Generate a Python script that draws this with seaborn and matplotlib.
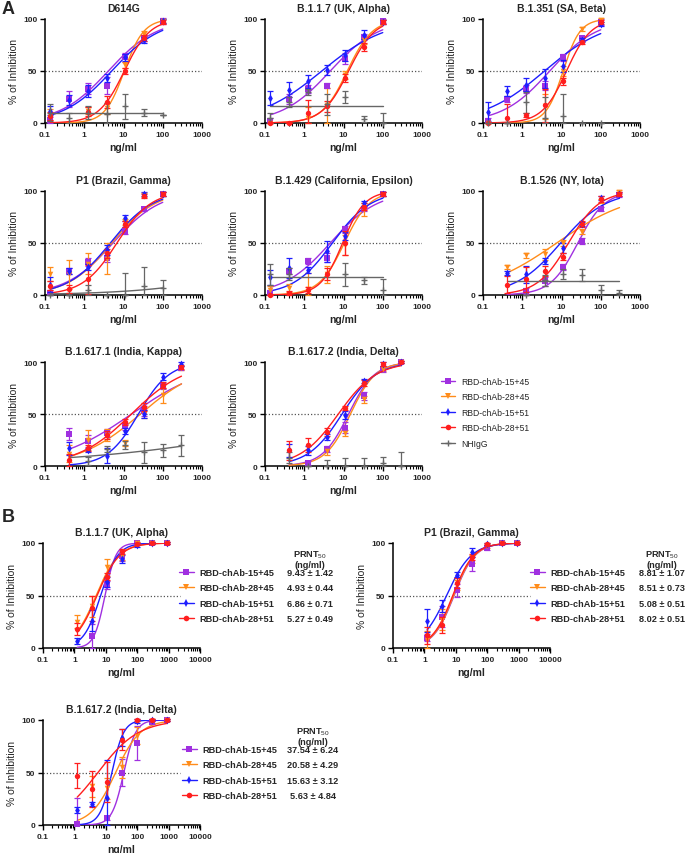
import numpy as np
import pandas as pd
import matplotlib
matplotlib.use("Agg")
import matplotlib.pyplot as plt
import seaborn as sns
from matplotlib.lines import Line2D
from matplotlib.ticker import FixedLocator, LogLocator, NullFormatter

sns.set_style("ticks")
plt.rcParams['font.family'] = ['Liberation Sans', 'DejaVu Sans']
plt.rcParams['mathtext.fontset'] = 'custom'
plt.rcParams['mathtext.rm'] = 'Liberation Sans'
plt.rcParams['mathtext.bf'] = 'Liberation Sans:bold'

nan = np.nan

# ---------------- data ----------------
SERIES = ["RBD-chAb-15+45", "RBD-chAb-28+45", "RBD-chAb-15+51", "RBD-chAb-28+51", "NHIgG"]
COLORS = ["#A030E0", "#FF8C1A", "#1E1EFF", "#FF1E1E", "#666666"]
MARKERS = ["s", "v", "d", "o", "+"]

X_A1 = [0.137, 0.41, 1.23, 3.7, 11.1, 33.3, 100]
X_A2 = [0.41, 1.23, 3.7, 11.1, 33.3, 100, 300]
X_B = [1.23, 3.7, 11.1, 33.3, 100, 300, 900]

# fit parameters: (bottom, top, IC50, hill)
D614G_Y = [[3, 23, 33, 36, 63, 82, 98], [8, nan, 12, 14, 56, 86, 98],
           [12, 22, 31, 43, 63, 80, 98], [7, nan, 11, 20, 50, 82, 97],
           [10, 5, 10, 9, 16, 10, 8]]
D614G_ERR = [[3, 8, 5, 8, 4, 3, 3], [5, 0, 3, 5, 3, 2, 2], [4, 5, 6, 4, 3, 3, 2],
             [4, 0, 4, 6, 3, 3, 2], [8, 5, 6, 10, 12, 3, 0]]
D614G_FIT = [(0, 100, 4.1, 0.7), (0, 100, 10.5, 1.75), (0, 100, 5.0, 0.7),
             (0, 100, 10.5, 1.33), (10, 10, 1, 1)]

ALPHA_Y = [[2, 23, 33, 36, 62, 83, 98], [0, nan, 5, 17, 46, 80, 97],
           [24, 32, 40, 51, 65, 85, 97], [0, 0, 10, 16, 43, 73, 97],
           [5, 20, 30, 18, 25, 4, 0]]
ALPHA_ERR = [[3, 5, 4, 2, 5, 3, 2], [0, 0, 10, 17, 4, 4, 2], [7, 7, 6, 5, 5, 4, 2],
             [0, 0, 12, 5, 4, 4, 2], [5, 5, 3, 10, 6, 3, 10]]
ALPHA_FIT = [(0, 100, 4.6, 0.7), (0, 100, 12.5, 1.35), (0, 100, 2.8, 0.53),
             (0, 100, 13.5, 1.3), (16, 16, 1, 1)]

BETA_Y = [[2, 23, 33, 36, 63, 82, 97], [0, nan, nan, 16, 50, 90, 99],
          [11, 31, 37, 43, 55, 80, 95], [0, 5, 8, 17, 40, 78, 97],
          [0, 0, 20, 5, 7, 0, 0]]
BETA_ERR = [[3, 3, 4, 4, 3, 2, 3], [0, 0, 0, 12, 5, 2, 2], [9, 5, 6, 9, 6, 2, 2],
            [0, 13, 2, 16, 3, 2, 2], [0, 0, 10, 20, 21, 0, 0]]
BETA_FIT = [(0, 100, 5.0, 0.72), (0, 100, 11, 2.0), (0, 100, 3.7, 0.55),
            (0, 100, 13.4, 1.4), (0, 0, 1, 1)]

GAMMA_Y = [[2, 23, 32, 36, 62, 83, 97], [20, 20, 30, 35, 70, 96, 97],
           [10, 23, 27, 43, 74, 97, 97], [9, 6, 15, 40, 68, 95, 97],
           [0, 0, 5, 0, 0, 9, 7]]
GAMMA_ERR = [[3, 3, 4, 4, 3, 2, 2], [7, 14, 10, 15, 3, 2, 2], [7, 3, 3, 5, 3, 2, 2],
             [4, 4, 14, 4, 3, 2, 2], [0, 0, 5, 0, 21, 18, 7]]
GAMMA_FIT = [(0, 100, 5.4, 0.72), (0, 100, 5.0, 0.78), (0, 100, 4.6, 0.8),
             (0, 100, 6.8, 1.0), (0, 100, 6e5, 0.3)]

EPSILON_Y = [[2, 23, 33, 36, 63, 83, 97], [5, 7, 6, 20, 48, 82, 97],
             [17, 26, 24, 42, 57, 88, 97], [0, 2, 5, 20, 50, 85, 97],
             [20, 20, nan, nan, 20, 14, 5]]
EPSILON_ERR = [[3, 3, 3, 4, 3, 2, 2], [4, 4, 15, 8, 10, 6, 2], [7, 10, 3, 10, 4, 2, 2],
               [0, 2, 3, 6, 12, 3, 2], [10, 6, 0, 0, 11, 3, 10]]
EPSILON_FIT = [(0, 100, 4.6, 0.72), (0, 100, 10.5, 1.35), (0, 100, 5.2, 0.88),
               (0, 100, 9.5, 1.55), (17, 17, 1, 1)]

IOTA_Y = [[nan, 4, 13, 27, 52, 83, 96], [27, 38, 39, 50, 61, 90, 99],
          [21, 20, 33, 45, 68, 93, 97], [10, 15, 23, 37, 68, 92, 97],
          [nan, 0, 14, 20, 19, 5, 2]]
IOTA_ERR = [[0, 3, 4, 3, 3, 2, 2], [2, 2, 5, 3, 2, 2, 2], [2, 8, 3, 5, 2, 2, 2],
            [8, 12, 5, 3, 3, 3, 2], [0, 0, 5, 5, 6, 5, 3]]
IOTA_FIT = [(0, 100, 26, 1.25), (0, 100, 7.5, 0.45), (0, 100, 9.5, 0.75),
            (0, 100, 15, 1.1), (13, 13, 1, 1)]

KAPPA_Y = [[31, 24, 32, 38, 53, 77, 94], [12, 25, 30, 22, 50, 68, 94],
           [17, 15, 10, 34, 50, 86, 98], [6, 17, 30, 42, 57, 78, 95],
           [nan, 5, 16, 20, 13, 15, 20]]
KAPPA_ERR = [[6, 6, 4, 3, 5, 3, 2], [8, 10, 6, 3, 4, 7, 2], [6, 2, 7, 3, 4, 3, 2],
             [6, 3, 4, 3, 4, 3, 2], [0, 4, 3, 4, 10, 6, 10]]
KAPPA_FIT = [(0, 100, 16, 0.45), (0, 100, 27, 0.55), (0, 100, 24, 1.1),
             (0, 100, 16, 0.63), (0, 100, 4.7e6, 0.15)]

DELTA_Y = [[nan, 3, 16, 37, 67, 93, 100], [nan, nan, 14, 32, 64, 93, 100],
           [15, 15, 28, 49, 82, 98, 100], [15, 20, 33, 56, 80, 98, 100],
           [8, 0, 0, 0, 0, 3, 0]]
DELTA_ERR = [[0, 2, 3, 5, 4, 3, 1], [0, 0, 3, 3, 3, 2, 1], [6, 4, 3, 4, 2, 2, 1],
             [9, 7, 4, 2, 3, 2, 1], [5, 0, 6, 8, 8, 6, 13]]
DELTA_FIT = [(0, 100, 13.5, 1.3), (0, 100, 15, 1.35), (0, 100, 9.2, 1.0),
             (0, 100, 7.4, 0.9), None]

# Panel B
B_ALPHA_Y = [[nan, 11, 60, 88, 100, 100, 100], [25, 40, 77, 88, 100, 100, 100],
             [7, 26, 63, 85, 98, 100, 100], [18, 38, 68, 92, 99, 100, 100]]
B_ALPHA_ERR = [[0, 12, 4, 5, 1, 1, 1], [6, 10, 8, 4, 1, 1, 1],
               [3, 10, 5, 4, 2, 1, 1], [6, 12, 3, 2, 1, 1, 1]]
B_ALPHA_FIT = [(0, 100, 9.43, 2.5), (0, 100, 4.93, 1.2), (0, 100, 6.86, 1.6), (0, 100, 5.27, 1.2)]
B_ALPHA_PRNT = ["9.43 \u00b1 1.42", "4.93 \u00b1 0.44", "6.86 \u00b1 0.71", "5.27 \u00b1 0.49"]

B_GAMMA_Y = [[10, 30, 55, 80, 95, 100, 100], [8, 27, 60, 85, 97, 100, 100],
             [26, 40, 70, 91, 99, 100, 100], [12, 22, 62, 87, 99, 100, 100]]
B_GAMMA_ERR = [[3, 10, 6, 7, 2, 1, 1], [8, 10, 5, 4, 2, 1, 1],
               [11, 6, 2, 4, 1, 1, 1], [8, 8, 5, 3, 1, 1, 1]]
B_GAMMA_FIT = [(0, 100, 8.81, 1.3), (0, 100, 8.51, 1.3), (0, 100, 5.08, 1.1), (0, 100, 8.02, 1.3)]
B_GAMMA_PRNT = ["8.81 \u00b1 1.07", "8.51 \u00b1 0.73", "5.08 \u00b1 0.51", "8.02 \u00b1 0.51"]

B_DELTA_Y = [[1, nan, 7, 50, 78, 98, 100], [nan, 37, 35, 55, 85, 99, 100],
             [14, 20, 26, 83, 99, 100, 100], [47, 34, 41, 81, 100, 100, 100]]
B_DELTA_ERR = [[25, 0, 2, 13, 16, 2, 1], [0, 10, 10, 10, 8, 2, 1],
               [3, 2, 36, 8, 2, 1, 1], [12, 17, 19, 10, 1, 1, 1]]
B_DELTA_FIT = [(0, 100, 37.54, 2.3), (0, 100, 20.58, 1.1), (0, 100, 15.63, 2.3), (0, 100, 5.63, 0.67)]
B_DELTA_PRNT = ["37.54 \u00b1 6.24", "20.58 \u00b1 4.29", "15.63 \u00b1 3.12", "5.63 \u00b1 4.84"]

TICKS_A = [0.1, 1, 10, 100, 1000]
TICKS_B = [0.1, 1, 10, 100, 1000, 10000]
TICKLABELS_A = ["0.1", "1", "10", "100", "1000"]
TICKLABELS_B = ["0.1", "1", "10", "100", "1000", "10000"]

# ---------------- layout ----------------
W, H = 685, 854
fig = plt.figure(figsize=(W / 100, H / 100), dpi=100)


def box(x0, top, w, h):
    return [x0 / W, 1 - (top + h) / H, w / W, h / H]


def fourpl(x, bottom, top, ic50, hill):
    return bottom + (top - bottom) / (1 + (ic50 / x) ** hill)


DRAW_ORDER = [4, 3, 2, 1, 0]


def draw_panel(ax, title, x, Y, E, F, ticks, ticklabels, dot_frac):
    ax.set_xscale('log')
    ax.axhline(50, xmin=0, xmax=dot_frac, color='#555555', ls=(0, (1, 1.6)), lw=0.9, zorder=1)
    for i in DRAW_ORDER:
        if i >= len(Y):
            continue
        col = COLORS[i]
        df = pd.DataFrame({'x': x, 'y': np.array(Y[i], float), 'e': np.array(E[i], float)}).dropna()
        if F[i] is not None:
            xs = np.logspace(np.log10(x[0]), np.log10(x[-1]), 200)
            cdf = pd.DataFrame({'x': xs, 'y': fourpl(xs, *F[i])})
            sns.lineplot(data=cdf, x='x', y='y', ax=ax, color=col, lw=1.0, zorder=3 + i,
                         estimator=None, sort=False)
        lower = np.minimum(df['e'].values, df['y'].values)
        ax.errorbar(df['x'], df['y'], yerr=[lower, df['e'].values], fmt='none', ecolor=col,
                    elinewidth=0.9, capsize=2.2, capthick=0.9, clip_on=False, zorder=4 + i)
        if MARKERS[i] == '+':
            sns.scatterplot(data=df, x='x', y='y', ax=ax, marker='+', color=col, s=22,
                            linewidth=1.0, clip_on=False, zorder=5 + i)
        else:
            sz = {'s': 16, 'v': 16, 'd': 16, 'o': 15}[MARKERS[i]]
            sns.scatterplot(data=df, x='x', y='y', ax=ax, marker=MARKERS[i], color=col, s=sz,
                            linewidth=0, clip_on=False, zorder=5 + i)
    ax.set_xlim(ticks[0], ticks[-1])
    ax.set_ylim(0, 100)
    ax.xaxis.set_major_locator(FixedLocator(ticks))
    ax.set_xticklabels(ticklabels)
    ax.xaxis.set_minor_locator(LogLocator(base=10, subs=np.arange(2, 10)))
    ax.xaxis.set_minor_formatter(NullFormatter())
    ax.set_yticks([0, 50, 100])
    ax.set_yticklabels(["0", "50", "100"])
    ax.tick_params(axis='both', which='major', length=3.5, width=1.0, labelsize=6, pad=2,
                   direction='out', color='black')
    ax.tick_params(axis='x', which='minor', length=2, width=0.8, direction='out', color='black')
    for lab in ax.get_xticklabels() + ax.get_yticklabels():
        lab.set_fontweight('bold')
    sns.despine(ax=ax)
    for sp in ['left', 'bottom']:
        ax.spines[sp].set_linewidth(1.1)
        ax.spines[sp].set_color('black')
    ax.set_title(title, fontsize=7.5, fontweight='bold', pad=6)
    ax.set_xlabel("ng/ml", fontsize=7.5, fontweight='bold', labelpad=3)
    ax.set_ylabel("% of Inhibition", fontsize=7.5, labelpad=3)
    if ax.get_legend() is not None:
        ax.get_legend().remove()


PANELS_A = [
    ("D614G", X_A1, D614G_Y, D614G_ERR, D614G_FIT),
    ("B.1.1.7 (UK, Alpha)", X_A1, ALPHA_Y, ALPHA_ERR, ALPHA_FIT),
    ("B.1.351 (SA, Beta)", X_A1, BETA_Y, BETA_ERR, BETA_FIT),
    ("P1 (Brazil, Gamma)", X_A1, GAMMA_Y, GAMMA_ERR, GAMMA_FIT),
    ("B.1.429 (California, Epsilon)", X_A1, EPSILON_Y, EPSILON_ERR, EPSILON_FIT),
    ("B.1.526 (NY, Iota)", X_A2, IOTA_Y, IOTA_ERR, IOTA_FIT),
    ("B.1.617.1 (India, Kappa)", X_A2, KAPPA_Y, KAPPA_ERR, KAPPA_FIT),
    ("B.1.617.2 (India, Delta)", X_A2, DELTA_Y, DELTA_ERR, DELTA_FIT),
]
COL_X = [45, 265, 483]
ROW_TOP = [20, 192, 363]
for k, (title, x, Y, E, F) in enumerate(PANELS_A):
    r, c = divmod(k, 3)
    ax = fig.add_axes(box(COL_X[c], ROW_TOP[r], 157, 104))
    draw_panel(ax, title, x, Y, E, F, TICKS_A, TICKLABELS_A, 1.0)

# legend panel A
handles = []
for i in range(5):
    if MARKERS[i] == '+':
        h = Line2D([0], [0], color=COLORS[i], lw=1, marker='+', markersize=5, markeredgewidth=1)
    else:
        h = Line2D([0], [0], color=COLORS[i], lw=1, marker=MARKERS[i], markersize=4, markeredgewidth=0)
    handles.append(h)
fig.legend(handles, SERIES, loc='upper left', bbox_to_anchor=(441 / W, 1 - 378 / H),
           frameon=False, fontsize=6.2, handlelength=1.6, handletextpad=0.8,
           labelspacing=0.75, borderpad=0, borderaxespad=0)

# Panel B
PANELS_B = [
    ("B.1.1.7 (UK, Alpha)", B_ALPHA_Y, B_ALPHA_ERR, B_ALPHA_FIT, B_ALPHA_PRNT, (43, 544), (179, 569), 310),
    ("P1 (Brazil, Gamma)", B_GAMMA_Y, B_GAMMA_ERR, B_GAMMA_FIT, B_GAMMA_PRNT, (393, 544), (530, 569), 662),
    ("B.1.617.2 (India, Delta)", B_DELTA_Y, B_DELTA_ERR, B_DELTA_FIT, B_DELTA_PRNT, (43, 721), (182, 746), 313),
]
legends_b = []
for title, Y, E, F, prnt, (x0, top), (lx, ly), vx in PANELS_B:
    ax = fig.add_axes(box(x0, top, 157, 105))
    draw_panel(ax, title, X_B, Y, E, F, TICKS_B, TICKLABELS_B, 0.87)
    leg = fig.legend(handles[:4], SERIES[:4], loc='upper left', bbox_to_anchor=(lx / W, 1 - ly / H),
                     frameon=False, prop={'size': 6.6, 'weight': 'bold'}, handlelength=1.6,
                     handletextpad=0.6, labelspacing=0.7, borderpad=0, borderaxespad=0)
    legends_b.append((leg, prnt, vx, ly))

fig.canvas.draw()
renderer = fig.canvas.get_renderer()
for leg, prnt, vx, ly in legends_b:
    texts = leg.get_texts()
    for t, v in zip(texts, prnt):
        bb = t.get_window_extent(renderer)
        yc = (bb.y0 + bb.y1) / 2 / H
        fig.text(vx / W, yc, v, ha='center', va='center', fontsize=6.6, fontweight='bold')
    fig.text(vx / W, 1 - (ly - 14) / H, r"PRNT$_{50}$", ha='center', va='center', fontsize=6.6,
             fontweight='bold')
    fig.text(vx / W, 1 - (ly - 3) / H, "(ng/ml)", ha='center', va='center', fontsize=6.6,
             fontweight='bold')

fig.text(2 / W, 1 - 10 / H, "A", fontsize=13, fontweight='bold', ha='left', va='center')
fig.text(2 / W, 1 - 517 / H, "B", fontsize=13, fontweight='bold', ha='left', va='center')

fig.savefig("out.png", dpi=100)
